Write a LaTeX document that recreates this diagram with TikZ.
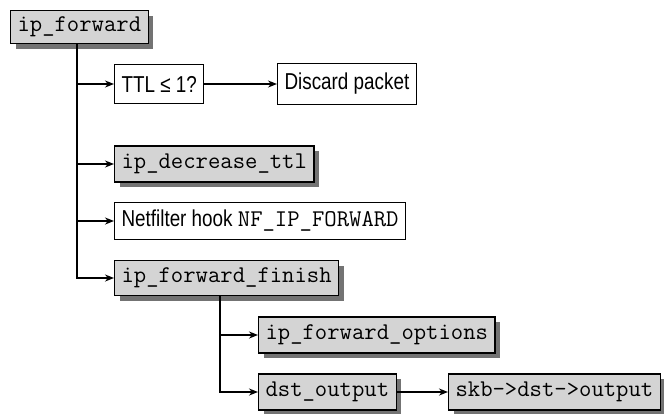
\documentclass[tikz,border=0pt]{standalone}
\usepackage{fontspec}
\setmainfont{Liberation Sans}[FakeStretch=0.82]
\usetikzlibrary{arrows.meta,shadows}
\definecolor{boxgray}{HTML}{D4D4D4}
\definecolor{shadgray}{HTML}{737373}
\tikzset{
  base/.style={draw=black, line width=1.1pt, anchor=west, inner xsep=7pt, inner ysep=0pt,
    font=\fontsize{23}{25}\selectfont},
  codebox/.style={base, fill=boxgray, font=\fontsize{24}{26}\selectfont\ttfamily,
    drop shadow={shadow xshift=5pt, shadow yshift=-5pt, fill=shadgray, opacity=1}},
  textbox/.style={base, fill=white},
  arr/.style={line width=1.5pt, -{Stealth[length=9pt,width=7pt]}},
}
\begin{document}
\begin{tikzpicture}[x=1pt,y=-1pt]
\useasboundingbox (0,0) rectangle (664,413);
\node[codebox, minimum height=33pt] (ipf) at (10,27) {ip\_forward};
\node[textbox, minimum height=39pt] (ttl) at (114,84) {TTL ≤ 1?};
\node[textbox, minimum height=41pt] (dis) at (277,84) {Discard packet};
\node[codebox, minimum height=36pt] (dec) at (114,164) {ip\_decrease\_ttl};
\node[textbox, minimum height=37pt] (nf) at (114,221) {Netfilter hook {\fontsize{24}{26}\selectfont\ttfamily NF\_IP\_FORWARD}};
\node[codebox, minimum height=35pt] (fin) at (114,278) {ip\_forward\_finish};
\node[codebox, minimum height=36pt] (opt) at (258,335) {ip\_forward\_options};
\node[codebox, minimum height=36pt] (dst) at (258,392) {dst\_output};
\node[codebox, minimum height=36pt] (skb) at (448,392) {skb->dst->output};
\coordinate (t1) at (77,43.5);
\coordinate (t2) at (220,296);
\draw[arr] (t1) |- (ttl.west);
\draw[arr] (t1) |- (dec.west);
\draw[arr] (t1) |- (nf.west);
\draw[arr] (t1) |- (fin.west);
\draw[arr] (ttl.east) -- (dis.west);
\draw[arr] (t2) |- (opt.west);
\draw[arr] (t2) |- (dst.west);
\draw[arr] (dst.east) -- (skb.west);
\end{tikzpicture}
\end{document}
